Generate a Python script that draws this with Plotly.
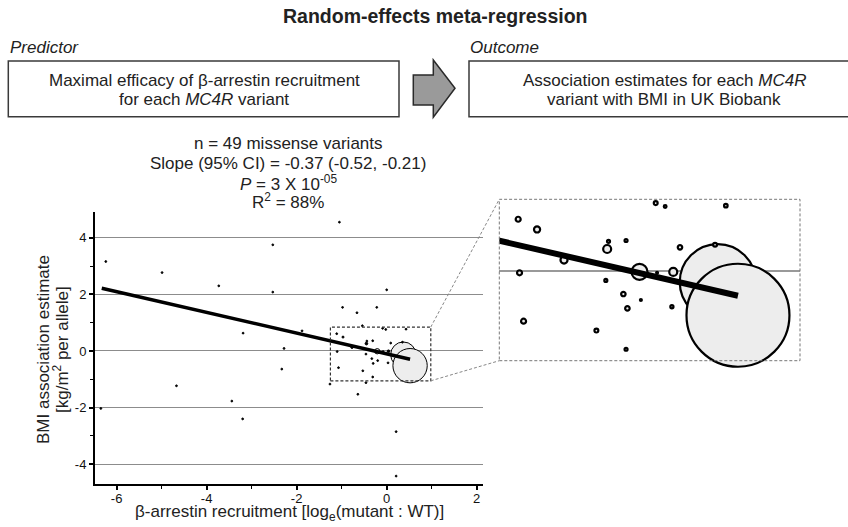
import numpy as np
import plotly.graph_objects as go

W, H = 848, 527

# ---------------- data ----------------
# beta-arrestin recruitment (log_e mutant:WT), BMI effect (kg/m2 per allele), relative weight
beta_arrestin = [0.37, 0.52,
                 -6.24, -4.99, -3.73, -3.19, -4.67, -3.44, -3.20, -6.35, -1.05, -2.53,
                 -2.53, 0.00, -0.98, -0.22, -0.66, -0.54, -1.88, -2.28, -2.33, -0.64,
                 0.21, 0.21, -1.26, -0.46,
                 -1.11, -0.97, -1.10, -1.07, -0.77, -0.44, -0.45, -0.31, -0.46, -0.33,
                 -0.20, -0.30, -0.53, -0.31, -0.21, -0.08, -0.09, -0.02, 0.43, 0.09,
                 0.35, 0.04, 0.03]
bmi_effect = [-0.13, -0.52,
              3.16, 2.77, 2.30, 0.63, -1.23, -1.77, -2.40, -2.03, 4.55, 3.75,
              2.08, 2.16, 1.54, 1.54, 1.35, 0.89, 0.71, 0.09, -0.64, -1.53,
              -2.85, -4.42, -1.17, -1.12,
              0.61, 0.49, -0.02, -0.59, 0.13, 0.35, 0.26, 0.36, -0.11, -0.27,
              -0.34, -0.44, -0.70, -0.92, -0.01, -0.02, 0.80, 0.76, 0.77, 0.28,
              0.31, -0.01, -0.42]
weight = [231, 424,
          0.3, 0.3, 0.3, 0.3, 0.3, 0.2, 0.3, 0.2, 0.2, 0.3,
          0.3, 0.2, 0.3, 0.3, 0.3, 1.0, 0.3, 0.3, 0.3, 0.3,
          0.3, 0.2, 0.2, 0.3,
          1.0, 1.5, 1.0, 1.0, 2.0, 0.36, 2.56, 0.36, 0.36, 0.8,
          0.15, 0.8, 0.6, 0.36, 10.2, 0.15, 0.6, 0.3, 0.5, 0.8,
          0.6, 2.56, 0.4]

slope = -0.366
intercept = -0.10
line_x = [-6.33, 0.52]

zoom_x = [-1.25, 0.98]
zoom_y = [-1.055, 0.845]

x_tick_vals = [-6, -4, -2, 0, 2]
x_tick_text = ["-6", "-4", "-2", "0", "2"]
y_tick_vals = [-4, -2, 0, 2, 4]
y_tick_text = ["-4", "-2", "0", "2", "4"]
x_minor_vals = [-5, -3, -1, 1]
y_minor_vals = [-3, -1, 1, 3]

stats_lines = ["n = 49 missense variants",
               "Slope (95% CI) = -0.37 (-0.52, -0.21)",
               "<i>P</i> = 3 X 10<sup>-05</sup>",
               "R<sup>2</sup> = 88%"]

# ---------------- layout geometry (pixels) ----------------
def px(x):
    return x / W

def py(y):
    return 1 - y / H

main_xdom = [px(95), px(483)]
main_ydom = [py(484), py(211.7)]
main_xrange = [-6.48, 2.14]
main_yrange = [-4.7, 4.92]
inset_xdom = [px(499.3), px(800)]
inset_ydom = [py(360.7), py(199.3)]

def main_to_paper(x, y):
    fx = (x - main_xrange[0]) / (main_xrange[1] - main_xrange[0])
    fy = (y - main_yrange[0]) / (main_yrange[1] - main_yrange[0])
    return (main_xdom[0] + fx * (main_xdom[1] - main_xdom[0]),
            main_ydom[0] + fy * (main_ydom[1] - main_ydom[0]))

FONT = "Liberation Sans, Arial, sans-serif"

bx = np.array(beta_arrestin)
by = np.array(bmi_effect)
w = np.array(weight)
inset_size = 5 * np.sqrt(w)
main_size = np.maximum(inset_size / 3, 1.8)
main_fill = np.where(main_size > 4, "#ededed", "black")
inside = (bx >= zoom_x[0]) & (bx <= zoom_x[1]) & (by >= zoom_y[0]) & (by <= zoom_y[1])

lx = np.array(line_x)
ly = intercept + slope * lx

fig = go.Figure()
fig.add_trace(go.Scatter(x=bx, y=by, mode="markers", xaxis="x", yaxis="y",
                         cliponaxis=False,
                         marker=dict(size=main_size, color=main_fill, opacity=1,
                                     line=dict(color="black", width=1))))
fig.add_trace(go.Scatter(x=lx, y=ly, mode="lines", xaxis="x", yaxis="y",
                         line=dict(color="black", width=3.5)))
fig.add_trace(go.Scatter(x=bx[inside], y=by[inside], mode="markers", xaxis="x2", yaxis="y2",
                         cliponaxis=False,
                         marker=dict(size=inset_size[inside], color="#ededed", opacity=1,
                                     line=dict(color="black", width=2.2))))
fig.add_trace(go.Scatter(x=lx, y=ly, mode="lines", xaxis="x2", yaxis="y2",
                         line=dict(color="black", width=6)))

axis_common = dict(showline=True, linecolor="black", linewidth=2, ticks="outside",
                   ticklen=4, tickwidth=1.5, tickcolor="black",
                   tickfont=dict(family=FONT, size=13, color="#111"), zeroline=False)

fig.update_layout(
    width=W, height=H, margin=dict(l=0, r=0, t=0, b=0),
    paper_bgcolor="white", plot_bgcolor="white", showlegend=False,
    font=dict(family=FONT, color="#222"),
    xaxis=dict(domain=main_xdom, range=main_xrange, anchor="y", showgrid=False,
               tickvals=x_tick_vals, ticktext=x_tick_text, ticklabelstandoff=-3,
               minor=dict(ticks="outside", ticklen=3, tickwidth=1, tickcolor="black",
                          tickvals=x_minor_vals, showgrid=False),
               **axis_common),
    yaxis=dict(domain=main_ydom, range=main_yrange, anchor="x", showgrid=True,
               gridcolor="#8c8c8c", gridwidth=1,
               tickvals=y_tick_vals, ticktext=y_tick_text,
               minor=dict(ticks="outside", ticklen=3, tickwidth=1, tickcolor="black",
                          tickvals=y_minor_vals, showgrid=False),
               **axis_common),
    xaxis2=dict(domain=inset_xdom, range=zoom_x, anchor="y2", showgrid=False,
                zeroline=False, showline=False, showticklabels=False, ticks=""),
    yaxis2=dict(domain=inset_ydom, range=zoom_y, anchor="x2", showgrid=False,
                zeroline=True, zerolinecolor="#999999", zerolinewidth=2,
                showline=False, showticklabels=False, ticks=""),
)

shapes = []
box_line = dict(color="#3a3a3a", width=1.5)
shapes.append(dict(type="rect", xref="paper", yref="paper", x0=px(8.3), x1=px(399),
                   y0=py(116.7), y1=py(61), line=box_line, fillcolor="white", layer="below"))
shapes.append(dict(type="rect", xref="paper", yref="paper", x0=px(469), x1=px(870),
                   y0=py(116.7), y1=py(61), line=box_line, fillcolor="white", layer="below"))
arrow_pts = [(413.3, 75), (433.3, 75), (433.3, 60), (455, 88.3), (433.3, 117.3),
             (433.3, 105), (413.3, 105)]
path = "M " + " L ".join(f"{px(a):.5f},{py(b):.5f}" for a, b in arrow_pts) + " Z"
shapes.append(dict(type="path", xref="paper", yref="paper", path=path,
                   fillcolor="#9a9a9a", line=dict(color="#2a2a2a", width=1.5)))
# zoom rectangle on main plot
shapes.append(dict(type="rect", xref="x", yref="y", x0=zoom_x[0], x1=zoom_x[1],
                   y0=zoom_y[0], y1=zoom_y[1],
                   line=dict(color="#333333", width=1.2, dash="3px,2px")))
# inset border
shapes.append(dict(type="rect", xref="paper", yref="paper", x0=inset_xdom[0], x1=inset_xdom[1],
                   y0=inset_ydom[0], y1=inset_ydom[1],
                   line=dict(color="#777777", width=1, dash="3px,2px")))
# connectors
tr = main_to_paper(zoom_x[1], zoom_y[1])
br = main_to_paper(zoom_x[1], zoom_y[0])
shapes.append(dict(type="line", xref="paper", yref="paper", x0=tr[0], y0=tr[1],
                   x1=inset_xdom[0], y1=inset_ydom[1],
                   line=dict(color="#888888", width=1, dash="3px,2px")))
shapes.append(dict(type="line", xref="paper", yref="paper", x0=br[0], y0=br[1],
                   x1=inset_xdom[0], y1=inset_ydom[0],
                   line=dict(color="#888888", width=1, dash="3px,2px")))
fig.update_layout(shapes=shapes)

ann = []
def text(x, y, t, size=17, xanchor="center", angle=0, color="#222"):
    ann.append(dict(x=px(x), y=py(y), xref="paper", yref="paper", text=t, showarrow=False,
                    xanchor=xanchor, yanchor="middle", textangle=angle,
                    font=dict(family=FONT, size=size, color=color)))

text(435, 16, "<b>Random-effects meta-regression</b>", size=19.5)
text(8, 47, "<i>Predictor</i>", xanchor="left")
text(468, 47, "<i>Outcome</i>", xanchor="left")
text(204, 80, "Maximal efficacy of β-arrestin recruitment")
text(204, 99, "for each <i>MC4R</i> variant")
text(664, 80, "Association estimates for each <i>MC4R</i>")
text(664, 99, "variant with BMI in UK Biobank")
for yy, t in zip([144, 163, 183, 201], stats_lines):
    text(288, yy, t)
text(43, 350, "BMI association estimate", angle=-90)
text(61, 350, "[kg/m<sup>2</sup> per allele]", angle=-90)
text(289, 513, "β-arrestin recruitment [log<sub>e</sub>(mutant : WT)]")
fig.update_layout(annotations=ann)

fig.write_html("out.html", config={"displayModeBar": False},
               post_script="document.body.style.margin='0';")
